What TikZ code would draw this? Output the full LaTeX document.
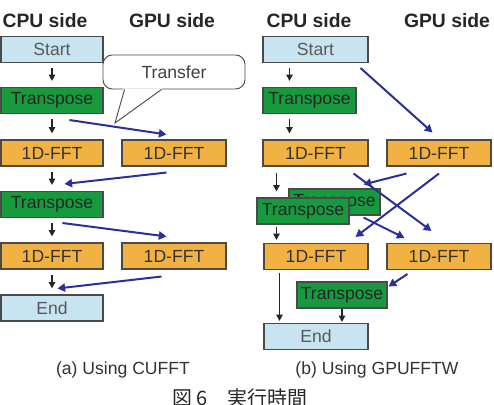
\documentclass[tikz,border=0pt]{standalone}
\usepackage{fontspec}
\setmainfont{Liberation Sans}
\newfontfamily\jpfont{Noto Sans CJK JP}
\usetikzlibrary{arrows.meta,calc}
\newlength\pxl \setlength\pxl{0.03cm}
\definecolor{boxline}{HTML}{4A4A4A}
\definecolor{lblue}{HTML}{C8E4F0}
\definecolor{fgreen}{HTML}{17993E}
\definecolor{forange}{HTML}{F2B243}
\definecolor{navy}{HTML}{2B2F9A}
\begin{document}
\begin{tikzpicture}[x=0.03cm,y=-0.03cm,
  box/.style={draw=boxline, line width=0.9pt, inner sep=0pt, minimum height=26\pxl, font=\fontsize{15}{15}\selectfont},
  sebox/.style={box, fill=lblue, text=black!65},
  trbox/.style={box, fill=fgreen, text=black!85},
  fftbox/.style={box, fill=forange, text=black!80},
  blk/.style={-{Triangle[length=5.5pt,width=5.5pt]}, line width=1.3pt, black!85},
  blu/.style={navy, line width=1.7pt, -{Triangle[length=6.5pt,width=7pt]}},
  head/.style={font=\bfseries\fontsize{16.5}{16.5}\selectfont, text=black!85},
  captext/.style={font=\fontsize{15}{15}\selectfont, text=black!80}]
\useasboundingbox (0,0) rectangle (494,405);
\clip (0,0) rectangle (494,405);
\fill[white] (0,0) rectangle (494,405);
% headers
\node[head] (hlc) at (45,21) {CPU side};
\node[head] (hlg) at (172,21) {GPU side};
\node[head] (hrc) at (309,21) {CPU side};
\node[head] (hrg) at (447,21) {GPU side};
% ---------- left panel ----------
\node[sebox, minimum width=102\pxl] (lstart) at (52,49.5) {Start};
\node[trbox, minimum width=102\pxl] (ltr1) at (52,100.5) {Transpose};
\node[fftbox, minimum width=102\pxl] (lfft1) at (52,153) {1D-FFT};
\node[fftbox, minimum width=104\pxl] (gfft1) at (174,153) {1D-FFT};
\node[trbox, minimum width=102\pxl] (ltr2) at (52,204.5) {Transpose};
\node[fftbox, minimum width=102\pxl] (lfft2) at (52,256) {1D-FFT};
\node[fftbox, minimum width=104\pxl] (gfft2) at (174,256) {1D-FFT};
\node[sebox, minimum width=102\pxl] (lend) at (52,308) {End};
\foreach \a/\b in {lstart/ltr1, ltr1/lfft1, lfft1/ltr2, ltr2/lfft2, lfft2/lend}
  \draw[blk] ($(\a.south)+(0,5)$) -- ($(\b.north)+(0,-6)$);
\draw[blu] ($(ltr1.south west)+(69,6)$) -- ($(gfft1.north west)+(45,-5)$);
\draw[blu] ($(gfft1.south west)+(45,6)$) -- ($(ltr2.north west)+(64,-7)$);
\draw[blu] ($(ltr2.south west)+(62,5)$) -- ($(gfft2.north west)+(45,-6)$);
\draw[blu] ($(gfft2.south west)+(40,7)$) -- ($(lend.north west)+(57,-6)$);
% callout
\node[draw=black!70, line width=0.8pt, fill=white, rounded corners=8pt, minimum width=142\pxl, minimum height=34\pxl, inner sep=0pt, font=\fontsize{15}{15}\selectfont, text=black!75] (callout) at (174,72) {Transfer};
\coordinate (ctip) at (115,123);
\fill[white] ($(callout.south west)+(21,-1)$) -- (ctip) -- ($(callout.south west)+(60,-1)$) -- cycle;
\draw[black!70, line width=0.8pt] ($(callout.south west)+(22,0)$) -- (ctip) -- ($(callout.south west)+(59,0)$);
% ---------- right panel ----------
\node[sebox, minimum width=105\pxl] (rstart) at (315.5,49.5) {Start};
\node[trbox, minimum width=93\pxl] (rtr1) at (309.5,100.5) {Transpose};
\node[fftbox, minimum width=105\pxl] (rfft1) at (315.5,153) {1D-FFT};
\node[fftbox, minimum width=104\pxl] (rgfft1) at (439,153) {1D-FFT};
\node[trbox, minimum width=91\pxl] (rtrB) at (334.5,202) {Transpose};
\node[trbox, minimum width=92\pxl] (rtrF) at (303,211) {Transpose};
\node[fftbox, minimum width=104\pxl] (rfft2) at (316,256.5) {1D-FFT};
\node[fftbox, minimum width=104\pxl] (rgfft2) at (439,256.5) {1D-FFT};
\node[trbox, minimum width=90\pxl] (rtr3) at (342,295) {Transpose};
\node[sebox, minimum width=104\pxl] (rend) at (316,336.5) {End};
\draw[blk] ($(rstart.south west)+(27,5)$) -- ($(rtr1.north west)+(27,-6)$);
\draw[blk] ($(rtr1.south west)+(27,5)$) -- ($(rtr1.south west |- rfft1.north)+(27,-6)$);
\draw[blk] ($(rfft1.south west)+(14,6)$) -- ($(rtrF.north west)+(20,-6)$);
\draw[blk] ($(rtrF.south west)+(20,2)$) -- ($(rtrF.south west |- rfft2.north)+(20,-3)$);
\draw[blk] ($(rfft2.south west)+(16,3)$) -- ($(rend.north west)+(16,-2)$);
\draw[blk] (rtr3.south) -- ($(rtr3.south |- rend.north)+(0,-1)$);
\draw[blu] ($(rstart.south east)+(-8,5)$) -- ($(rgfft1.north west)+(46,-7)$);
\draw[blu] ($(rfft1.south east)+(-15,7)$) -- ($(rgfft2.north west)+(45,-12)$);
\draw[blu] ($(rgfft1.south west)+(20,7)$) -- ($(rtrB.north east)+(-17,-4)$);
\draw[blu] ($(rgfft1.south)+(0,7)$) -- ($(rfft2.north east)+(-13,-6)$);
\draw[blu] ($(rtrB.south east)+(-17,2)$) -- ($(rgfft2.north west)+(18,-5)$);
\draw[blu] ($(rgfft2.south west)+(21,4)$) -- ($(rtr3.north east)+(1,5)$);
% captions
\node[captext] (capa) at (123,370) {(a) Using CUFFT};
\node[captext] (capb) at (377,370) {(b) Using GPUFFTW};
\node[anchor=west, font=\jpfont\fontsize{17}{17}\selectfont, text=black!85] (capjp) at (168,398) {図 6　実行時間};
\end{tikzpicture}
\end{document}
